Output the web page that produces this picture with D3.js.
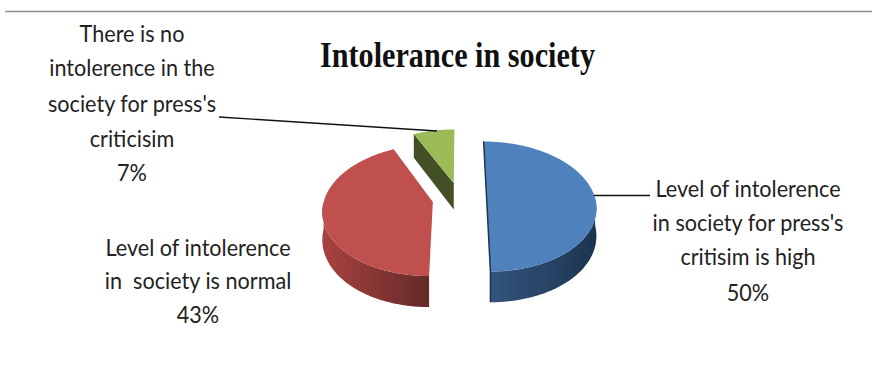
<!DOCTYPE html>
<html>
<head>
<meta charset="utf-8">
<script src="https://cdn.jsdelivr.net/npm/d3@7/dist/d3.min.js"></script>
<style>
  html, body { margin: 0; padding: 0; background: #fff; }
  svg { display: block; }
</style>
</head>
<body>
<script>
// Survey shares, clockwise from twelve o'clock
const categories = ["High", "Normal", "None"];
const values = [50, 43, 7];
const percentLabels = ["50%", "43%", "7%"];
const labelLines = [
  ["Level of intolerence", "in society for press's", "critisim is high", "50%"],
  ["Level of intolerence", "in  society is normal", "43%"],
  ["There is no", "intolerence in the", "society for press's", "criticisim", "7%"]
];
const chartTitle = "Intolerance in society";

const width = 872, height = 372;
const svg = d3.select("body").append("svg").attr("width", width).attr("height", height);

// Colours per slice: top face, wall gradient start and end
const topColors = ["#4f81bd", "#c0504d", "#9bbb59"];
const wallColors = [["#34557f", "#1d344f"], ["#a8423f", "#642a29"], ["#434f24", "#434f24"]];

// Perspective view of a tilted disc
const explode = 0.25, persp = 0.123, thickness = 27;
const xView = d3.scaleLinear().domain([-1, 1]).range([351, 568]);
const yView = d3.scaleLinear().domain([-1, 1]).range([262.5, 134.5]);

const arcs = d3.pie().sort(null).value(d => d)(values);

function project(a, off, level) {
  const X = Math.sin(a) + off[0], Y = Math.cos(a) + off[1];
  return facePoint(X, Y, level);
}
function facePoint(X, Y, level) {
  const w = 1 + persp * Y;
  return [xView(X / w), yView(Y / w) + level * thickness / w];
}
const line = d3.line();
const defs = svg.append("defs");

// One slice: wall faces first, top face afterwards
function drawSlice(d, i) {
  const mid = (d.startAngle + d.endAngle) / 2;
  const off = [explode * Math.sin(mid), explode * Math.cos(mid)];
  const g = svg.append("g");

  // Visible stretch of the outer wall, front half of the rim only
  const wallFrom = Math.max(d.startAngle, Math.PI / 2);
  const wallTo = Math.min(d.endAngle, 3 * Math.PI / 2);
  if (wallTo > wallFrom) {
    const angles = d3.range(wallFrom, wallTo, 0.02).concat([wallTo]);
    const upper = angles.map(a => project(a, off, 0));
    const lower = angles.map(a => project(a, off, 1)).reverse();
    const xs = d3.extent(upper, p => p[0]);
    const grad = defs.append("linearGradient").attr("id", "wall" + i)
      .attr("gradientUnits", "userSpaceOnUse")
      .attr("x1", xs[0]).attr("x2", xs[1]).attr("y1", 0).attr("y2", 0);
    grad.append("stop").attr("offset", 0).attr("stop-color", wallColors[i][0]);
    grad.append("stop").attr("offset", 1).attr("stop-color", wallColors[i][1]);
    g.append("path").attr("d", line(upper.concat(lower)) + "Z").attr("fill", `url(#wall${i})`);
  }

  const apex = facePoint(off[0], off[1], 0);
  const apexLow = facePoint(off[0], off[1], 1);

  // Cut face running along the slice's far edge, shown for the small wedge
  if (i === 2) {
    const tip = project(d.startAngle, off, 0), tipLow = project(d.startAngle, off, 1);
    g.append("path").attr("d", line([tip, apex, apexLow, tipLow]) + "Z").attr("fill", wallColors[i][0]);
  }

  const angles = d3.range(d.startAngle, d.endAngle, 0.02).concat([d.endAngle]);
  const rim = angles.map(a => project(a, off, 0));
  g.append("path").attr("d", line([apex].concat(rim)) + "Z").attr("fill", topColors[i]);

  // Thin dark cut edge on the large right-hand slice
  if (i === 0) {
    const t = project(d.startAngle, off, 0), b = project(d.endAngle, off, 0);
    g.append("path").attr("d", line([t, apex, b, project(d.endAngle, off, 1)]))
      .attr("fill", "none").attr("stroke", wallColors[0][1]).attr("stroke-width", 1.5);
  }
}
[1, 0, 2].forEach(i => drawSlice(arcs[i], i));

// Rule along the top edge
svg.append("line").attr("x1", 5).attr("x2", width).attr("y1", 11.5).attr("y2", 11.5)
  .attr("stroke", "#8c8c8c").attr("stroke-width", 1.6);

// Title
svg.append("text").attr("x", 320).attr("y", 67).text(chartTitle)
  .attr("font-family", "'Liberation Serif', serif").attr("font-weight", "bold")
  .attr("font-size", 35).attr("fill", "#111")
  .attr("textLength", 275).attr("lengthAdjust", "spacingAndGlyphs");

// Leader lines
const leaders = [[[594, 195.5], [650, 195.5]], [[219, 117], [437, 131]]];
leaders.forEach(l => svg.append("path").attr("d", line(l)).attr("stroke", "#111").attr("stroke-width", 1.4).attr("fill", "none"));

// Data labels, set in a tall narrow cut
const labelLayout = [
  { cx: 748, ys: [189, 223, 257, 293] },
  { cx: 198, ys: [248, 281, 315] },
  { cx: 132, ys: [34, 68, 104, 139, 173] }
];
labelLines.forEach((lines, i) => {
  svg.append("g").selectAll("text").data(lines).join("text")
    .attr("transform", (t, j) => `translate(${labelLayout[i].cx},${labelLayout[i].ys[j]}) scale(0.94,1)`)
    .attr("dy", "0.35em")
    .attr("text-anchor", "middle")
    .attr("font-family", "Lato, 'Open Sans', sans-serif")
    .attr("font-size", 23)
    .attr("fill", "#222")
    .style("white-space", "pre")
    .text(t => t);
});
</script>
</body>
</html>
